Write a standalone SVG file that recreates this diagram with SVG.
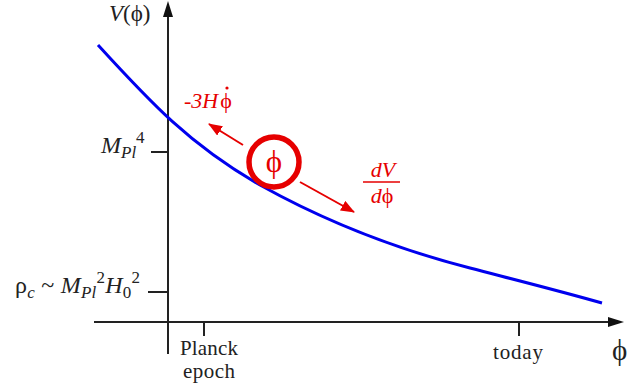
<svg xmlns="http://www.w3.org/2000/svg" width="629" height="387" viewBox="0 0 629 387">
<style>
.ax{stroke:#222;stroke-width:2;fill:none}
.t{font-family:"Liberation Serif","DejaVu Serif",serif;fill:#222}
.r{font-family:"Liberation Serif","DejaVu Serif",serif;fill:#e60000}
.i{font-style:italic}
</style>
<defs>
<marker id="ah" markerWidth="14" markerHeight="12" refX="13" refY="5.5" orient="auto" markerUnits="userSpaceOnUse">
<path d="M0,0 L14,5.5 L0,11 Z" fill="#e60000"/>
</marker>
</defs>
<rect width="629" height="387" fill="#fff"/>
<g id="axes">
<line class="ax" x1="168" y1="14" x2="168" y2="354"/>
<path d="M168,1 L173,17 L163,17 Z" fill="#111"/>
<line class="ax" x1="94" y1="322" x2="610" y2="322"/>
<path d="M624,322 L608,317 L608,327 Z" fill="#111"/>
<line class="ax" x1="151" y1="152" x2="168" y2="152"/>
<line class="ax" x1="148" y1="292" x2="168" y2="292"/>
<line class="ax" x1="204" y1="322" x2="204" y2="336"/>
<line class="ax" x1="519" y1="322" x2="519" y2="336"/>
</g>
<g id="curve">
<path d="M98,45 C150,102 190,145 260,185 C330,224 400,250 470,268 C520,281 560,291 602,303" fill="none" stroke="#0000ee" stroke-width="3"/>
</g>
<g id="labels">
<text class="t" x="109" y="21" font-size="23"><tspan class="i">V</tspan>(ϕ)</text>
<text class="t" x="101" y="153" font-size="24"><tspan class="i">M</tspan><tspan class="i" font-size="17" dy="5">Pl</tspan><tspan font-size="17" dy="-15">4</tspan></text>
<text class="t" x="15" y="293" font-size="24" textLength="125">ρ<tspan class="i" font-size="17" dy="5">c</tspan><tspan dy="-5"> ~ </tspan><tspan class="i">M</tspan><tspan class="i" font-size="17" dy="5">Pl</tspan><tspan font-size="17" dy="-15">2</tspan><tspan class="i" dy="10">H</tspan><tspan font-size="17" dy="5">0</tspan><tspan font-size="17" dy="-15">2</tspan></text>
<text class="t" x="209" y="355" font-size="21" text-anchor="middle" textLength="58">Planck</text>
<text class="t" x="209" y="378" font-size="21" text-anchor="middle" textLength="52">epoch</text>
<text class="t" x="518" y="359" font-size="21" text-anchor="middle" textLength="50">today</text>
<text class="t" x="612" y="360" font-size="29">ϕ</text>
</g>
<g id="ball">
<circle cx="274" cy="162" r="25" fill="#fff" stroke="#e60000" stroke-width="5.5"/>
<text x="274" y="172" font-size="31" text-anchor="middle" font-family="Liberation Serif,serif" fill="#e60000">ϕ</text>
</g>
<g id="forces">
<line x1="243" y1="145" x2="209" y2="124" stroke="#e60000" stroke-width="2" marker-end="url(#ah)"/>
<line x1="300" y1="182" x2="354" y2="212" stroke="#e60000" stroke-width="2" marker-end="url(#ah)"/>
<text class="r" x="184" y="108" font-size="22"><tspan class="i">-3H</tspan><tspan dx="2">ϕ</tspan></text>
<circle cx="227" cy="88" r="1.6" fill="#e60000"/>
<text class="r i" x="383" y="177" font-size="22" text-anchor="middle">dV</text>
<line x1="363" y1="182" x2="400" y2="182" stroke="#e60000" stroke-width="1.5"/>
<text class="r" x="382" y="203" font-size="22" text-anchor="middle"><tspan class="i">d</tspan>ϕ</text>
</g>
</svg>
